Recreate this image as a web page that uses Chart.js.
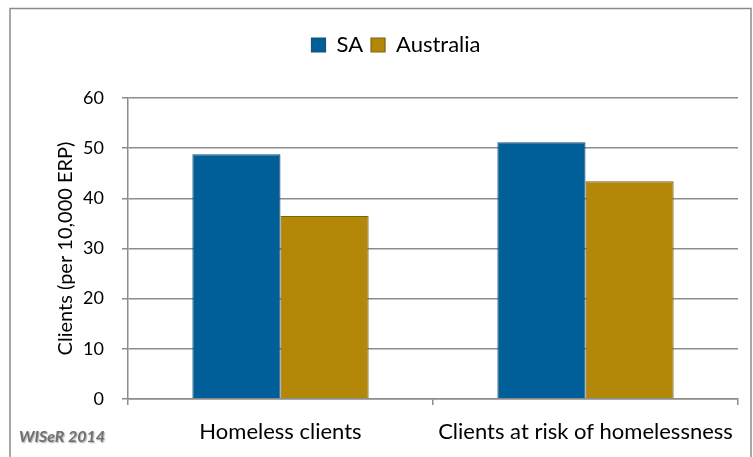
<!DOCTYPE html>
<html>
<head>
<meta charset="utf-8">
<script src="https://cdn.jsdelivr.net/npm/chart.js@4.4.0/dist/chart.umd.min.js"></script>
<style>
  html,body{margin:0;padding:0;background:#fff;}
  #wrap{width:753px;height:457px;position:relative;}
</style>
</head>
<body>
<div id="wrap"><canvas id="c" width="753" height="457"></canvas></div>
<script>
const categories=['Homeless clients','Clients at risk of homelessness'];
const saValues=[48.8,51.2];
const ausValues=[36.5,43.4];
const yTicks=[0,10,20,30,40,50,60];

const FONT='Lato, "Liberation Sans", sans-serif';
const gc='#8c8c8c';

// frame around the whole chart plus the source note in the corner
const decor={
  id:'decor',
  beforeLayout(chart){
    // leave a gap between the legend and the plot area
    const lg=chart.legend;
    if(lg&&!lg._gapPatched){
      const fit=lg.fit;
      lg.fit=function(){fit.call(this);this.height+=32;};
      lg._gapPatched=true;
    }
  },
  beforeDraw(chart){
    const ctx=chart.ctx;
    ctx.save();
    ctx.strokeStyle='#8a8a8a';ctx.lineWidth=1.5;
    ctx.strokeRect(10,8.5,741,470);
    ctx.restore();
  },
  afterDraw(chart){
    const ctx=chart.ctx;
    ctx.save();
    ctx.font='italic bold 16px '+FONT;
    ctx.fillStyle='#707070';
    ctx.shadowColor='rgba(0,0,0,0.35)';ctx.shadowOffsetX=1;ctx.shadowOffsetY=1;ctx.shadowBlur=1.5;
    ctx.textBaseline='middle';
    ctx.fillText('WISeR 2014',19,437);
    ctx.restore();
  }
};

new Chart(document.getElementById('c'),{
  type:'bar',
  data:{labels:categories,datasets:[
    {label:'SA',data:saValues,backgroundColor:'#005e98',borderColor:'#1d4f78',borderWidth:1.2,
     categoryPercentage:0.578,barPercentage:1},
    {label:'Australia',data:ausValues,backgroundColor:'#b38808',borderColor:'#7d6410',borderWidth:1.2,
     categoryPercentage:0.578,barPercentage:1}
  ]},
  options:{
    responsive:false,animation:false,
    layout:{padding:{top:26,right:15,bottom:0,left:54}},
    plugins:{
      legend:{position:'top',align:'center',
        labels:{color:'#000',font:{family:FONT,size:22},boxWidth:14,boxHeight:14,padding:8}},
      tooltip:{enabled:false}
    },
    scales:{
      x:{
        grid:{display:true,drawOnChartArea:false,drawTicks:true,tickLength:6,color:gc,lineWidth:1.5,offset:true},
        border:{display:true,color:gc,width:1.5},
        ticks:{color:'#000',font:{family:FONT,size:22},padding:14},
        afterFit:s=>{s.height=58;}
      },
      y:{
        min:0,max:60,
        afterBuildTicks:s=>{s.ticks=yTicks.map(v=>({value:v}));},
        grid:{color:gc,lineWidth:1.5,tickLength:6},
        border:{display:true,color:gc,width:1.5},
        ticks:{color:'#000',font:{family:FONT,size:18},padding:18},
        title:{display:true,text:'Clients (per 10,000 ERP)',color:'#000',font:{family:FONT,size:20},padding:{top:0,bottom:8}},
        afterFit:s=>{s.width=74;}
      }
    }
  },
  plugins:[decor]
});
</script>
</body>
</html>
